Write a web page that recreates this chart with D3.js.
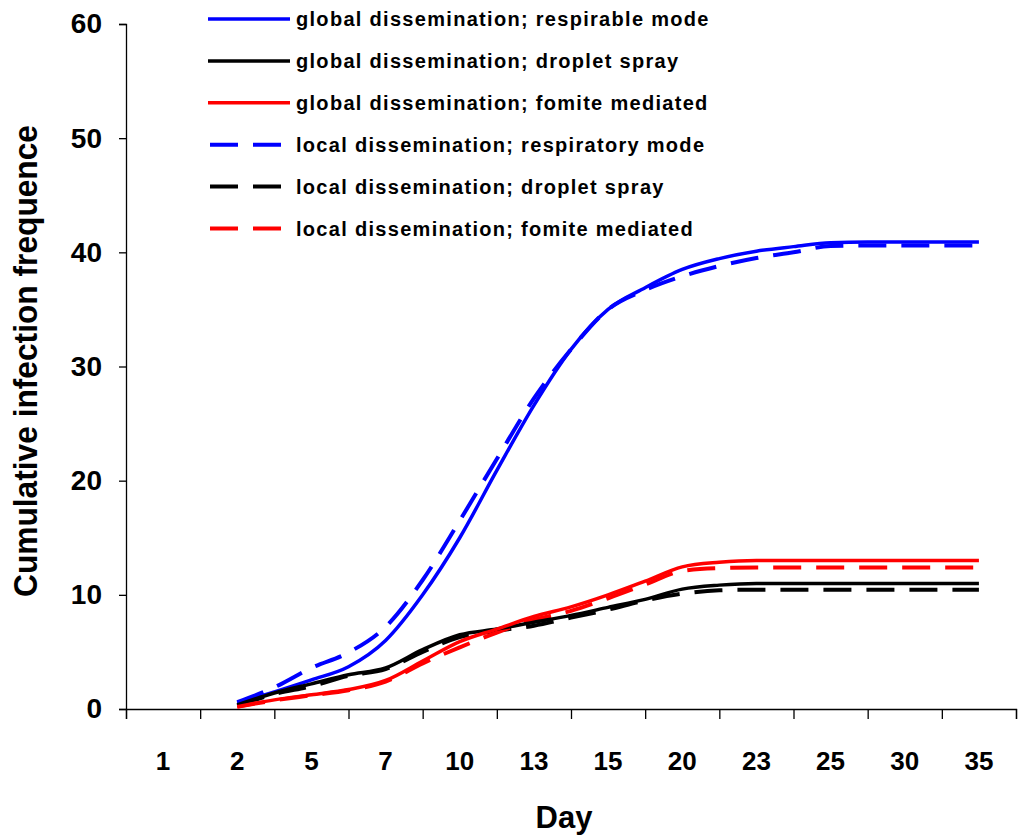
<!DOCTYPE html>
<html>
<head>
<meta charset="utf-8">
<script src="https://cdn.jsdelivr.net/npm/d3@7"></script>
<style>
    body { margin: 0; background: #fff; }
    text { font-family: "Liberation Sans", Arial, sans-serif; font-weight: bold; fill: #000; }
</style>
</head>
<body>
<div id="chart"></div>
<script>
// category labels on the x axis
const dayLabels = ["1", "2", "5", "7", "10", "13", "15", "20", "23", "25", "30", "35"];
const yTicks = [0, 10, 20, 30, 40, 50, 60];

// sample positions, in category index units (1 = "2", 11 = "35")
const samplePos = [1, 1.5, 2, 2.5, 3, 3.5, 4, 4.5, 5, 5.5, 6, 6.5, 7, 7.5, 8, 8.5, 9, 9.5, 10, 10.5, 11];

const globalRespirable = [0.5, 1.5, 2.55, 3.7, 6.0, 10.0, 15.0, 20.9, 26.6, 31.5, 35.0, 36.9, 38.5, 39.45, 40.1, 40.5, 40.85, 40.9, 40.9, 40.9, 40.9];
const globalDroplet    = [0.35, 1.4, 2.2, 3.0, 3.6, 5.2, 6.5, 7.0, 7.6, 8.2, 8.9, 9.6, 10.5, 10.85, 11.0, 11.0, 11.0, 11.0, 11.0, 11.0, 11.0];
const globalFomite     = [0.2, 0.8, 1.25, 1.7, 2.5, 4.2, 5.9, 7.0, 8.1, 8.95, 10.0, 11.2, 12.45, 12.85, 13.0, 13.0, 13.0, 13.0, 13.0, 13.0, 13.0];
const localRespiratory = [0.6, 1.9, 3.6, 4.95, 7.2, 11.3, 16.5, 21.9, 27.2, 31.5, 35.0, 36.7, 37.9, 38.8, 39.5, 40.0, 40.55, 40.6, 40.6, 40.6, 40.6];
const localDroplet     = [0.3, 1.3, 2.0, 2.9, 3.5, 5.0, 6.3, 6.85, 7.3, 8.0, 8.7, 9.5, 10.1, 10.4, 10.45, 10.45, 10.45, 10.45, 10.45, 10.45, 10.45];
const localFomite      = [0.2, 0.75, 1.2, 1.65, 2.4, 4.0, 5.4, 6.7, 7.8, 8.6, 9.7, 10.9, 12.1, 12.35, 12.4, 12.4, 12.4, 12.4, 12.4, 12.4, 12.4];

const seriesNames = [
    "global dissemination; respirable mode",
    "global dissemination; droplet spray",
    "global dissemination; fomite mediated",
    "local dissemination; respiratory mode",
    "local dissemination; droplet spray",
    "local dissemination; fomite mediated"
];
const seriesValues = [globalRespirable, globalDroplet, globalFomite, localRespiratory, localDroplet, localFomite];
const seriesColors = ["#0000ff", "#000000", "#ff0000", "#0000ff", "#000000", "#ff0000"];
const seriesDashed = [false, false, false, true, true, true];

class lineVis {

    constructor(parentElement) {
        this.parentElement = parentElement;
        this.initVis()
    }

    initVis() {
        let vis = this

        vis.width = 1018;
        vis.height = 838;

        vis.svg = d3.select(`#${vis.parentElement}`)
            .append("svg")
            .attr("width", vis.width)
            .attr("height", vis.height)

        // scales: each category is one unit wide, centred on its index
        vis.x = d3.scaleLinear().domain([-0.5, dayLabels.length - 0.5]).range([126, 1016])
        vis.y = d3.scaleLinear().domain([0, 60]).range([709, 24])

        // y axis
        let yAxis = d3.axisLeft(vis.y).tickValues(yTicks).tickSize(7).tickPadding(17)
        vis.yG = vis.svg.append("g")
            .attr("transform", `translate(${vis.x(-0.5)},0)`)
            .call(yAxis)
        vis.yG.select(".domain").attr("stroke", "#000").attr("stroke-width", 1.3)
        vis.yG.selectAll(".tick line").attr("stroke", "#000").attr("stroke-width", 1.3)
        vis.yG.selectAll(".tick text")
            .style("font-size", "28px")
            .style("font-family", "'Liberation Sans', Arial, sans-serif")
            .style("font-weight", "bold")

        // x axis: ticks between categories, labels in the middle
        let boundaries = d3.range(dayLabels.length + 1).map(i => i - 0.5)
        let xAxis = d3.axisBottom(vis.x).tickValues(boundaries).tickSize(10).tickFormat("")
        vis.xG = vis.svg.append("g")
            .attr("transform", `translate(0,${vis.y(0)})`)
            .call(xAxis)
        vis.xG.select(".domain").attr("stroke", "#000").attr("stroke-width", 1.3)
        vis.xG.selectAll(".tick line").attr("stroke", "#000").attr("stroke-width", 1.3)

        vis.svg.selectAll(".xlabels")
            .data(dayLabels)
            .enter().append("text")
            .attr("class", "xlabels")
            .attr("x", (d, i) => vis.x(i))
            .attr("y", 770)
            .attr("text-anchor", "middle")
            .style("font-size", "26px")
            .text(d => d)

        // axis titles
        vis.svg.append("text")
            .attr("x", vis.x(5.5) - 7)
            .attr("y", 828)
            .attr("text-anchor", "middle")
            .style("font-size", "31px")
            .text("Day")

        vis.svg.append("text")
            .attr("transform", "translate(37,361) rotate(-90)")
            .attr("text-anchor", "middle")
            .attr("textLength", 472)
            .attr("lengthAdjust", "spacingAndGlyphs")
            .style("font-size", "33px")
            .text("Cumulative infection frequence")

        vis.wrangleData()
    }

    wrangleData() {
        let vis = this

        vis.displayData = seriesNames.map((name, k) => ({
            name: name,
            color: seriesColors[k],
            dashed: seriesDashed[k],
            values: samplePos.map((p, i) => ({pos: p, value: seriesValues[k][i]}))
        }))

        vis.updateVis()
    }

    updateVis() {
        let vis = this

        let line = d3.line()
            .x(d => vis.x(d.pos))
            .y(d => vis.y(d.value))
            .curve(d3.curveMonotoneX)

        // draw dashed first so the solid lines sit on top, like the original
        let order = [3, 4, 5, 0, 1, 2].map(k => vis.displayData[k])

        vis.svg.selectAll(".series")
            .data(order)
            .enter().append("path")
            .attr("class", "series")
            .attr("d", d => line(d.values))
            .attr("fill", "none")
            .attr("stroke", d => d.color)
            .attr("stroke-width", d => d.dashed ? 4 : 3.5)
            .attr("stroke-dasharray", d => d.dashed ? "28,15" : null)

        // legend
        let legend = vis.svg.selectAll(".legend")
            .data(vis.displayData)
            .enter().append("g")
            .attr("class", "legend")
            .attr("transform", (d, i) => `translate(208,${19 + i * 41.9})`)

        legend.append("line")
            .attr("x1", d => d.dashed ? 2 : 0)
            .attr("x2", 82)
            .attr("stroke", d => d.color)
            .attr("stroke-width", d => d.dashed ? 4 : 3.5)
            .attr("stroke-dasharray", d => d.dashed ? "28,15" : null)

        legend.append("text")
            .attr("x", 88)
            .attr("y", 7)
            .style("font-size", "20px")
            .style("letter-spacing", "1.3px")
            .text(d => d.name)
    }
}

new lineVis("chart")
</script>
</body>
</html>
